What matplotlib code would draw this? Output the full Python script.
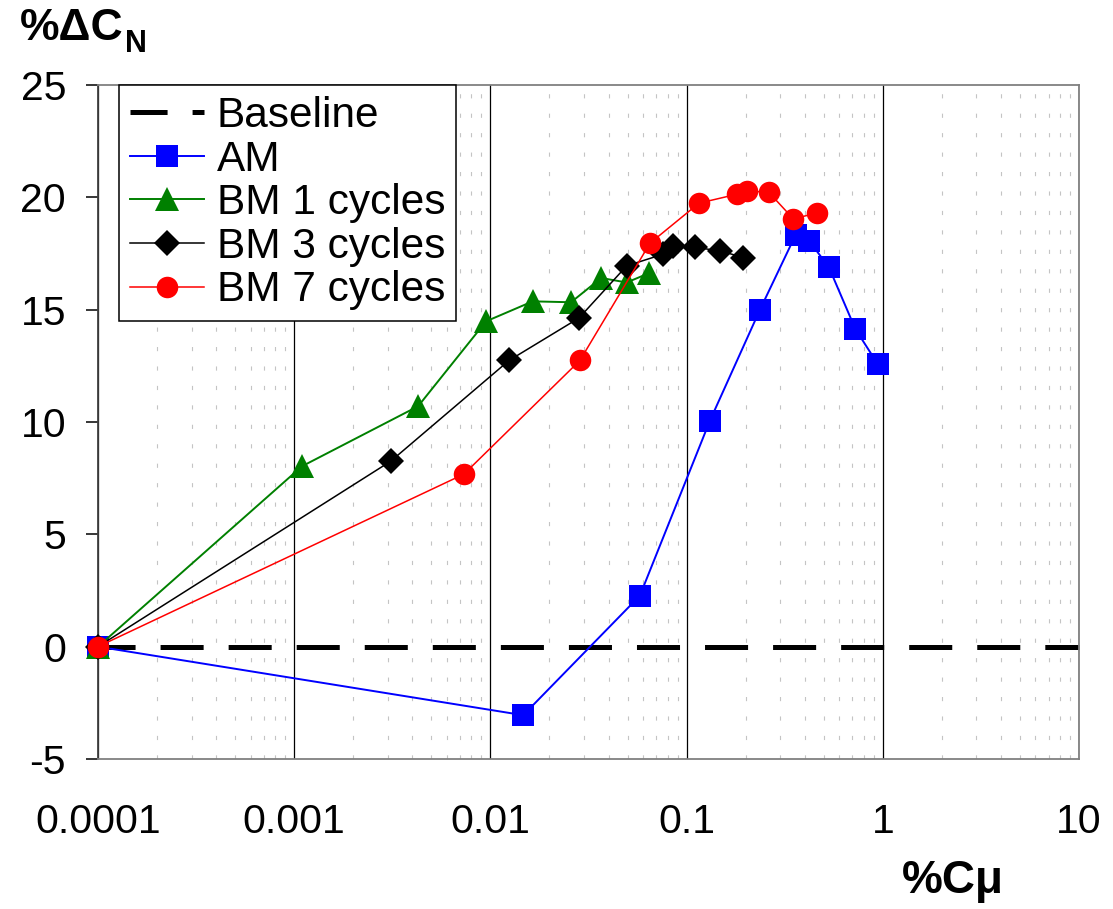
import matplotlib
matplotlib.use("Agg")
import matplotlib.pyplot as plt
from matplotlib.ticker import FixedLocator, NullFormatter

plt.rcParams['font.family'] = ['Liberation Sans', 'DejaVu Sans']
plt.rcParams['axes.unicode_minus'] = False
plt.rcParams['lines.scale_dashes'] = False

# %C_mu (log scale) vs %delta C_N
am_x = [0.0001, 0.0147, 0.0578, 0.1315, 0.2366, 0.360, 0.4207, 0.5317, 0.7245, 0.942]
am_y = [0.0, -3.05, 2.27, 10.06, 15.0, 18.34, 18.07, 16.88, 14.14, 12.58]

bm1_x = [0.0001, 0.001096, 0.00428, 0.0095, 0.01643, 0.02576, 0.0367, 0.0495, 0.0646]
bm1_y = [0.0, 8.03, 10.7, 14.48, 15.37, 15.33, 16.41, 16.21, 16.63]

bm3_x = [0.0001, 0.00311, 0.01245, 0.0283, 0.0495, 0.076, 0.0855, 0.1104, 0.148, 0.1945]
bm3_y = [0.0, 8.26, 12.74, 14.63, 16.95, 17.47, 17.84, 17.77, 17.62, 17.32]

bm7_x = [0.0001, 0.00733, 0.0286, 0.0651, 0.1156, 0.181, 0.2023, 0.262, 0.350, 0.460]
bm7_y = [0.0, 7.68, 12.74, 17.96, 19.74, 20.14, 20.28, 20.23, 19.04, 19.3]

baseline_x = [0.0001, 10.0]
baseline_y = [0.0, 0.0]

x_ticks = [0.0001, 0.001, 0.01, 0.1, 1, 10]
x_tick_labels = ['0.0001', '0.001', '0.01', '0.1', '1', '10']
y_ticks = [-5, 0, 5, 10, 15, 20, 25]

fig = plt.figure(figsize=(11.13, 9.09), dpi=100)
ax = fig.add_axes([98 / 1113, 1 - 759 / 909, (1079 - 98) / 1113, (759 - 85) / 909])

ax.set_xscale('log')
ax.set_xlim(0.0001, 10)
ax.set_ylim(-5, 25)

# decade gridlines solid, sub-decade gridlines as sparse short dashes
ax.xaxis.set_minor_locator(FixedLocator(
    [m * 10.0 ** e for e in range(-4, 1) for m in range(2, 10)]))
ax.xaxis.set_minor_formatter(NullFormatter())
ax.set_xticks(x_ticks)
ax.set_xticklabels(x_tick_labels)
ax.set_yticks(y_ticks)
ax.grid(which='major', axis='x', color='black', linewidth=0.9, zorder=0)
ax.grid(which='minor', axis='x', color='#c4c4c4', linewidth=0.8,
        linestyle=(0, (3, 11)), zorder=0)
ax.grid(which='major', axis='y', visible=False)
ax.set_axisbelow(True)

ax.tick_params(axis='x', which='both', length=0, pad=32, labelsize=29.5)
ax.tick_params(axis='y', which='major', direction='out', length=9,
               width=1.1, pad=14, labelsize=29.5)

for side in ['top', 'right', 'bottom']:
    ax.spines[side].set_color('#808080')
    ax.spines[side].set_linewidth(1.3)
ax.spines['left'].set_color('#404040')
ax.spines['left'].set_linewidth(1.3)

ax.plot(baseline_x, baseline_y, color='black', linewidth=3.6,
        linestyle=(4.3, (31, 18)), label='Baseline', zorder=2, clip_on=False)
ax.plot(am_x, am_y, color='#0000ff', linewidth=1.4, marker='s',
        markersize=16, markeredgewidth=0, label='AM', zorder=3, clip_on=False)
ax.plot(bm1_x, bm1_y, color='#008000', linewidth=1.4, marker='^',
        markersize=17, markeredgewidth=0, label='BM 1 cycles', zorder=4, clip_on=False)
ax.plot(bm3_x, bm3_y, color='black', linewidth=1.1, marker='D',
        markersize=13.5, markeredgewidth=0, label='BM 3 cycles', zorder=5, clip_on=False)
ax.plot(bm7_x, bm7_y, color='#ff0000', linewidth=1.1, marker='o',
        markersize=15.5, markeredgewidth=0, label='BM 7 cycles', zorder=6, clip_on=False)

leg = ax.legend(loc='upper left', bbox_to_anchor=(119 / 1113, 1 - 85 / 909),
                bbox_transform=fig.transFigure, borderaxespad=0,
                fontsize=30.5, frameon=True, fancybox=False, shadow=False,
                framealpha=1, edgecolor='black', handlelength=1.75,
                handletextpad=0.3, labelspacing=0.085, borderpad=0.26)
leg.get_frame().set_linewidth(1.1)
leg.set_zorder(10)

# axis titles
t_main = fig.text(20 / 1113, 1 - 40 / 909, '%ΔC', fontsize=32, fontweight='bold',
                  ha='left', va='baseline')
fig.canvas.draw()
bb = t_main.get_window_extent()
fig.text((bb.x1 + 1) / 1113, 1 - 52 / 909, 'N', fontsize=22, fontweight='bold',
         ha='left', va='baseline')
fig.text(902 / 1113, 1 - 893 / 909, '%Cμ', fontsize=33, fontweight='bold',
         ha='left', va='baseline')

fig.savefig('out.png', dpi=100)
